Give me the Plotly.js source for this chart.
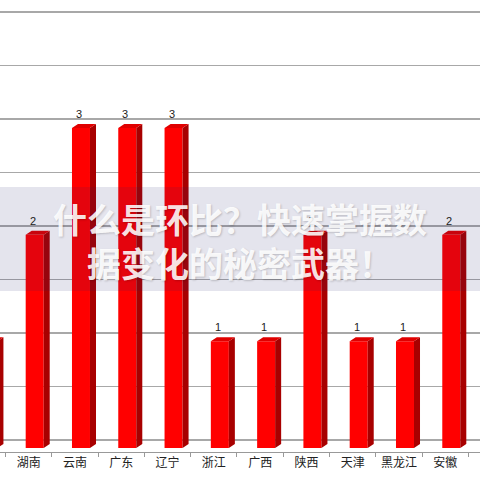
<!DOCTYPE html>
<html>
<head>
<meta charset="utf-8">
<script src="https://cdn.plot.ly/plotly-3.0.1.min.js"></script>
<style>
html,body{margin:0;padding:0;background:#fff;}
#chart{width:480px;height:480px;}
</style>
</head>
<body>
<div id="chart"></div>
<script>
// Data
var categories = ['吉林', '湖南', '云南', '广东', '辽宁', '浙江', '广西', '陕西', '天津', '黑龙江', '安徽', '江西'];
var values = [1, 2, 3, 3, 3, 1, 1, 2, 1, 1, 2, 1];
var overlayTitle = '什么是环比？快速掌握数<br>据变化的秘密武器！';

// 3D look parameters (in axis units)
var faceOff = -0.065, faceW = 0.389, dx = 0.13, dy = 0.0375;

var sideX = [], sideY = [], topX = [], topY = [];
categories.forEach(function (c, i) {
  var v = values[i];
  var x0 = i + faceOff, x1 = x0 + faceW;
  sideX.push(x1, x1 + dx, x1 + dx, x1, x1, null);
  sideY.push(0, dy, v + dy, v, 0, null);
  topX.push(x0, x1, x1 + dx, x0 + dx, x0, null);
  topY.push(v, v, v + dy, v + dy, v, null);
});

var traces = [
  {
    // empty trace so that the back-wall (gridline) axis pair exists
    type: 'scatter', mode: 'none', x: [], y: [], xaxis: 'x', yaxis: 'y',
    hoverinfo: 'skip', showlegend: false
  },
  {
    type: 'bar', x: categories, y: values, xaxis: 'x', yaxis: 'y2',
    offset: faceOff, width: faceW,
    marker: {color: '#ff0000', line: {width: 0}},
    hoverinfo: 'skip', showlegend: false
  },
  {
    type: 'scatter', mode: 'lines', x: sideX, y: sideY, xaxis: 'x2', yaxis: 'y2',
    fill: 'toself', fillcolor: '#a80000', line: {width: 0, color: '#a80000'},
    hoverinfo: 'skip', showlegend: false
  },
  {
    type: 'scatter', mode: 'lines', x: topX, y: topY, xaxis: 'x2', yaxis: 'y2',
    fill: 'toself', fillcolor: '#e00000', line: {width: 0, color: '#e00000'},
    hoverinfo: 'skip', showlegend: false
  }
];

var annotations = categories.map(function (c, i) {
  return {
    x: i + 0.09, y: values[i], xref: 'x2', yref: 'y2',
    text: String(values[i]), showarrow: false, yanchor: 'bottom', yshift: 6,
    font: {family: 'Arial, Liberation Sans, sans-serif', size: 11, color: '#222'}
  };
});
annotations.push({
  x: 0.5, y: 0.467, xref: 'paper', yref: 'paper', xanchor: 'center', yanchor: 'middle',
  text: overlayTitle, showarrow: false, align: 'center',
  font: {family: 'Noto Sans CJK SC, sans-serif', size: 34, color: 'rgba(255,255,255,0.9)',
         weight: 'bold', shadow: '1px 1px 2px rgba(0,0,0,0.2)'}
});

var layout = {
  width: 480, height: 480,
  margin: {l: 0, r: 0, t: 0, b: 28, pad: 0},
  paper_bgcolor: '#ffffff', plot_bgcolor: '#ffffff',
  showlegend: false,
  xaxis: {
    type: 'category', categoryorder: 'array', categoryarray: categories,
    range: [0.38, 10.75], tickson: 'boundaries', ticks: 'outside', ticklen: 4,
    tickcolor: '#999', showline: true, linecolor: '#999', linewidth: 1,
    showgrid: false, zeroline: false, fixedrange: true,
    tickfont: {family: 'Noto Sans CJK SC, sans-serif', size: 12, color: '#222'}
  },
  xaxis2: {overlaying: 'x', range: [0.38, 10.75], visible: false, type: 'linear'},
  yaxis: {
    range: [-0.1121, 4.1121], tick0: 0, dtick: 0.5, showticklabels: false,
    ticks: '', showgrid: true, gridcolor: '#a8a8a8', gridwidth: 1.3, zeroline: false
  },
  yaxis2: {overlaying: 'y', range: [-0.0375, 4.2], visible: false},
  shapes: [{
    type: 'rect', xref: 'paper', yref: 'paper', x0: 0, x1: 1,
    y0: (452 - 291) / 452, y1: (452 - 187) / 452,
    fillcolor: 'rgba(30,30,110,0.12)', line: {width: 0}, layer: 'above'
  }],
  annotations: annotations
};

Plotly.newPlot('chart', traces, layout, {staticPlot: true, displayModeBar: false});
</script>
</body>
</html>
